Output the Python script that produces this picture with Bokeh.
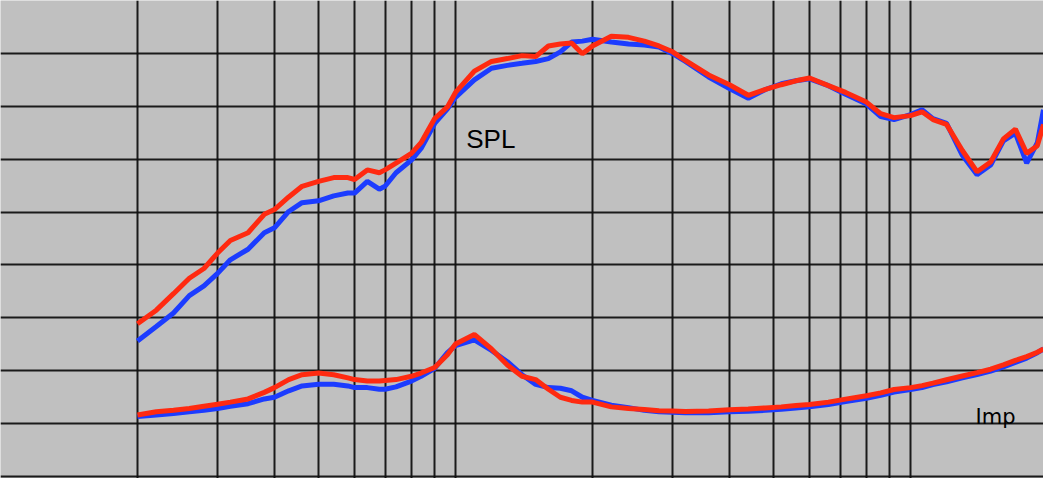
from bokeh.plotting import figure
from bokeh.models import Range1d, FixedTicker, Label
from bokeh.embed import file_html
from bokeh.resources import INLINE

# Frequency points (Hz)
freq = [100, 110, 120, 130, 140, 150, 160, 175, 190, 200, 215, 230, 250, 270, 290, 300,
        320, 340, 350, 370, 400, 420, 450, 480, 500, 550, 600, 650, 700, 750, 800, 850,
        900, 950, 1000, 1100, 1200, 1300, 1400, 1500, 1600, 1800, 2000, 2200, 2400, 2600,
        2800, 3000, 3300, 3600, 4000, 4300, 4600, 5000, 5300, 5600, 6000, 6500, 7000,
        7500, 8000, 8500, 9000, 9500, 9800]

# SPL (dB)
spl_red = [64.45, 65.73, 67.29, 68.75, 69.67, 71.13, 72.32, 73.05, 74.79, 75.24, 76.43,
           77.44, 77.90, 78.26, 78.26, 78.08, 78.99, 78.72, 78.99, 79.63, 80.55, 81.56,
           83.84, 84.94, 86.31, 88.32, 89.24, 89.51, 89.79, 89.70, 90.70, 90.88, 90.98,
           89.97, 90.70, 91.62, 91.52, 91.16, 90.70, 90.15, 89.33, 87.96, 87.04, 86.04,
           86.59, 87.04, 87.41, 87.68, 86.95, 86.31, 85.40, 84.30, 83.93, 84.12, 84.48,
           83.75, 83.29, 80.82, 78.81, 79.73, 81.92, 82.84, 80.55, 81.28, 83.29]
spl_blue = [62.81, 64.18, 65.46, 67.10, 68.02, 69.21, 70.49, 71.49, 73.05, 73.51, 75.06,
            75.89, 76.07, 76.53, 76.80, 76.80, 77.90, 77.17, 77.44, 78.72, 79.91, 81.01,
            83.38, 84.76, 85.85, 87.50, 88.60, 88.87, 89.06, 89.24, 89.51, 90.15, 91.07,
            91.16, 91.34, 91.07, 90.88, 90.79, 90.61, 89.97, 89.24, 87.77, 86.68, 85.76,
            86.59, 87.13, 87.41, 87.59, 86.95, 86.13, 85.21, 84.02, 83.75, 84.21, 84.67,
            83.84, 83.38, 80.37, 78.54, 79.45, 81.74, 82.47, 79.63, 81.56, 84.67]

# Impedance (ohm)
imp_red = [5.83, 6.13, 6.28, 6.43, 6.65, 6.83, 7.04, 7.34, 7.96, 8.41, 9.17, 9.63, 9.79,
           9.63, 9.33, 9.17, 9.03, 9.03, 9.08, 9.17, 9.48, 9.79, 10.31, 11.52, 12.53,
           13.44, 12.07, 10.55, 9.48, 9.17, 8.26, 7.50, 7.20, 7.04, 7.04, 6.59, 6.43,
           6.34, 6.22, 6.19, 6.16, 6.19, 6.31, 6.40, 6.49, 6.59, 6.72, 6.81, 7.04, 7.32,
           7.64, 7.91, 8.23, 8.41, 8.60, 8.83, 9.15, 9.51, 9.83, 10.15, 10.56, 10.98,
           11.34, 11.75, 12.07]
imp_blue = [5.67, 5.83, 5.97, 6.13, 6.28, 6.43, 6.65, 6.89, 7.34, 7.50, 8.11, 8.57, 8.72,
            8.72, 8.57, 8.41, 8.41, 8.26, 8.26, 8.48, 9.03, 9.48, 10.24, 11.71, 12.37,
            12.92, 11.92, 10.86, 9.63, 8.72, 8.41, 8.35, 8.11, 7.50, 7.20, 6.74, 6.52,
            6.26, 6.13, 6.08, 6.04, 6.04, 6.13, 6.17, 6.26, 6.36, 6.49, 6.59, 6.81, 7.09,
            7.41, 7.68, 8.00, 8.23, 8.41, 8.69, 8.96, 9.33, 9.65, 9.97, 10.38, 10.79,
            11.20, 11.71, 12.07]

x_grid = [50, 100, 150, 200, 250, 300, 350, 400, 450, 500, 1000, 1500, 2000, 2500, 3000,
          3500, 4000, 4500, 5000, 10000]
y_grid = [50, 55, 60, 65, 70, 75, 80, 85, 90, 95]

BG = "#c0c0c0"
BLUE = "#1c3cff"
RED = "#ff2a10"

p = figure(width=1043, height=478, x_axis_type="log",
           x_range=Range1d(50, 9800), y_range=Range1d(49.82, 95.0),
           output_backend="svg", toolbar_location=None, min_border=0,
           background_fill_color=BG, border_fill_color=BG, outline_line_color=None)
p.extra_y_ranges = {"imp": Range1d(-0.18, 45.0)}

p.xaxis.visible = False
p.yaxis.visible = False
p.xgrid.ticker = FixedTicker(ticks=x_grid)
p.ygrid.ticker = FixedTicker(ticks=y_grid)
for g in (p.xgrid, p.ygrid):
    g.grid_line_color = "#111111"
    g.grid_line_width = 2
    g.grid_line_alpha = 0.95
p.xgrid.minor_grid_line_color = None

p.line(freq, spl_blue, line_color=BLUE, line_width=5)
p.line(freq, spl_red, line_color=RED, line_width=5)
p.line(freq, imp_blue, line_color=BLUE, line_width=5, y_range_name="imp")
p.line(freq, imp_red, line_color=RED, line_width=5, y_range_name="imp")

p.add_layout(Label(x=528, y=81.9, text="SPL", text_font="Liberation Sans",
                   text_font_size="26px", text_color="black", text_baseline="alphabetic"))
p.add_layout(Label(x=6950, y=5.6, y_range_name="imp", text="Imp", text_font="DejaVu Sans",
                   text_font_size="21px", text_color="black", text_baseline="alphabetic"))

open("out.html", "w").write(file_html(p, INLINE))
